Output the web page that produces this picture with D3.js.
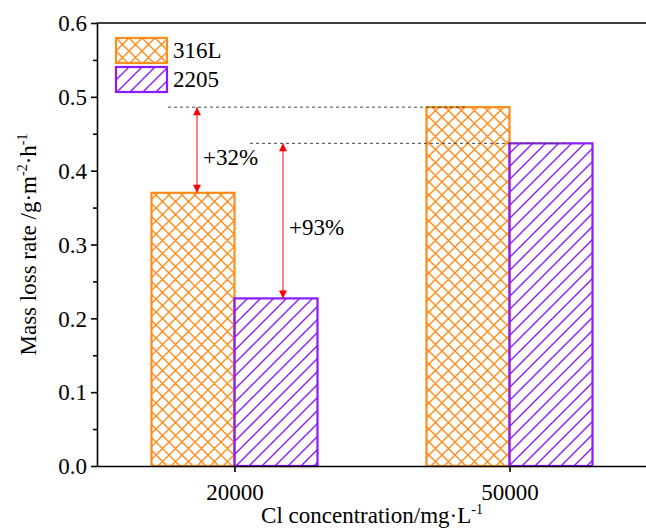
<!DOCTYPE html>
<html>
<head>
<meta charset="utf-8">
<script src="https://cdn.jsdelivr.net/npm/d3@7"></script>
<style>
  body { margin: 0; background: #fff; }
  svg { font-family: "Liberation Serif", "Times New Roman", serif; }
</style>
</head>
<body>
<svg width="646" height="529"></svg>
<script>
// Data
const categories = ['20000', '50000'];
const series = ['316L', '2205'];
const values_316L = [0.370, 0.486];
const values_2205 = [0.227, 0.437];
const y_ticks = [0, 0.1, 0.2, 0.3, 0.4, 0.5, 0.6];
const increases = ['+32%', '+93%'];

const colors = { '316L': '#ff8c1a', '2205': '#8b1aff' };

const svg = d3.select('svg');
const width = +svg.attr('width');
const height = +svg.attr('height');
const margin = { top: 23, right: -1, bottom: 63, left: 97 };
const font = '"Liberation Serif", "Times New Roman", serif';

const x_scale = d3.scalePoint()
    .domain(categories)
    .range([margin.left, width - margin.right])
    .padding(0.5);
const bar_width = 83;
const y_scale = d3.scaleLinear()
    .domain([0, 0.6])
    .range([height - margin.bottom, margin.top]);

// Hatch patterns
const defs = svg.append('defs');
const cross = defs.append('pattern')
    .attr('id', 'hatch-cross')
    .attr('patternUnits', 'userSpaceOnUse')
    .attr('width', 13).attr('height', 13);
cross.append('path')
    .attr('d', 'M0,0 L13,13 M13,0 L0,13 M-3,10 L3,16 M10,-3 L16,3 M-3,3 L3,-3 M10,16 L16,10')
    .attr('stroke', colors['316L'])
    .attr('stroke-width', 1.4);
const diag = defs.append('pattern')
    .attr('id', 'hatch-diag')
    .attr('patternUnits', 'userSpaceOnUse')
    .attr('width', 13).attr('height', 13);
diag.append('path')
    .attr('d', 'M0,13 L13,0 M-3,3 L3,-3 M10,16 L16,10')
    .attr('stroke', colors['2205'])
    .attr('stroke-width', 1.4);
const fills = { '316L': 'url(#hatch-cross)', '2205': 'url(#hatch-diag)' };

// Bars
const bar_data = [];
categories.forEach((c, i) => {
    bar_data.push({ cat: c, s: '316L', v: values_316L[i], x: x_scale(c) - bar_width });
    bar_data.push({ cat: c, s: '2205', v: values_2205[i], x: x_scale(c) });
});
svg.selectAll('.bar')
    .data(bar_data)
    .enter()
    .append('rect')
    .attr('class', 'bar')
    .attr('x', d => d.x)
    .attr('y', d => y_scale(d.v))
    .attr('width', bar_width)
    .attr('height', d => y_scale(0) - y_scale(d.v))
    .attr('fill', d => fills[d.s])
    .attr('stroke', d => colors[d.s])
    .attr('stroke-width', 2.2);

// Axes
const y_axis = svg.append('g')
    .attr('transform', `translate(${margin.left},0)`)
    .call(d3.axisLeft(y_scale).tickValues(y_ticks).tickFormat(d3.format('.1f')).tickSize(6).tickSizeOuter(0));
svg.append('g')
    .attr('transform', `translate(${margin.left},0)`)
    .call(d3.axisLeft(y_scale).tickValues(d3.range(0.05, 0.6, 0.1)).tickFormat('').tickSize(4).tickSizeOuter(0))
    .select('.domain').remove();
y_axis.selectAll('text')
    .attr('font-size', '23px')
    .attr('font-family', font)
    .attr('x', -10)
    .attr('dy', '0.34em')
    .attr('fill', '#000');

const x_axis = svg.append('g')
    .attr('transform', `translate(0,${y_scale(0)})`)
    .call(d3.axisBottom(x_scale).tickSize(6).tickSizeOuter(0));
x_axis.selectAll('text')
    .attr('font-size', '23px')
    .attr('font-family', font)
    .attr('y', 34)
    .attr('dy', 0)
    .attr('fill', '#000');
svg.selectAll('.domain, .tick line').attr('stroke', '#000').attr('stroke-width', 1.6);

// Top frame
svg.append('line')
    .attr('x1', margin.left).attr('x2', width)
    .attr('y1', y_scale(0.6)).attr('y2', y_scale(0.6))
    .attr('stroke', '#000').attr('stroke-width', 1.6);

// Axis titles
svg.append('text')
    .attr('transform', `translate(36,${(y_scale(0) + y_scale(0.6)) / 2}) rotate(-90)`)
    .attr('text-anchor', 'middle')
    .attr('font-size', '23px')
    .html('Mass loss rate /g·m<tspan dy="-9" font-size="14px">-2</tspan><tspan dy="9">·h</tspan><tspan dy="-9" font-size="14px">-1</tspan>');
svg.append('text')
    .attr('x', 372)
    .attr('y', 523)
    .attr('text-anchor', 'middle')
    .attr('font-size', '23px')
    .html('Cl concentration/mg·L<tspan dy="-9" font-size="14px">-1</tspan>');

// Reference lines and arrows
const ref_lines = [
    { v: values_316L[1], x1: 168, x2: 465 },
    { v: values_2205[1], x1: 250, x2: 565 }
];
svg.selectAll('.ref')
    .data(ref_lines)
    .enter()
    .append('line')
    .attr('x1', d => d.x1).attr('x2', d => d.x2)
    .attr('y1', d => y_scale(d.v)).attr('y2', d => y_scale(d.v))
    .attr('stroke', '#444').attr('stroke-width', 1)
    .attr('stroke-dasharray', '3,3');

defs.append('marker')
    .attr('id', 'arrow')
    .attr('viewBox', '0 0 10 10')
    .attr('refX', 10).attr('refY', 5)
    .attr('markerWidth', 12).attr('markerHeight', 8)
    .attr('markerUnits', 'userSpaceOnUse')
    .attr('orient', 'auto-start-reverse')
    .append('path')
    .attr('d', 'M0,0 L10,5 L0,10 Z')
    .attr('fill', '#ff0000');

const arrows = [
    { x: 197, from: values_316L[0], to: values_316L[1], label: increases[0], ly: 165 },
    { x: 283, from: values_2205[0], to: values_2205[1], label: increases[1], ly: 235 }
];
arrows.forEach(a => {
    svg.append('line')
        .attr('x1', a.x).attr('x2', a.x)
        .attr('y1', y_scale(a.from)).attr('y2', y_scale(a.to))
        .attr('stroke', '#ff0000').attr('stroke-width', 1)
        .attr('marker-start', 'url(#arrow)')
        .attr('marker-end', 'url(#arrow)');
    svg.append('text')
        .attr('x', a.x + 6)
        .attr('y', a.ly)
        .attr('font-size', '23px')
        .text(a.label);
});

// Legend
const legend = svg.append('g').attr('transform', 'translate(116,38)');
series.forEach((s, i) => {
    const g = legend.append('g').attr('transform', `translate(0,${i * 29})`);
    g.append('rect')
        .attr('width', 51).attr('height', 25)
        .attr('fill', fills[s])
        .attr('stroke', colors[s])
        .attr('stroke-width', 2.2);
    g.append('text')
        .attr('x', 57).attr('y', 20)
        .attr('font-size', '23px')
        .text(s);
});
</script>
</body>
</html>
